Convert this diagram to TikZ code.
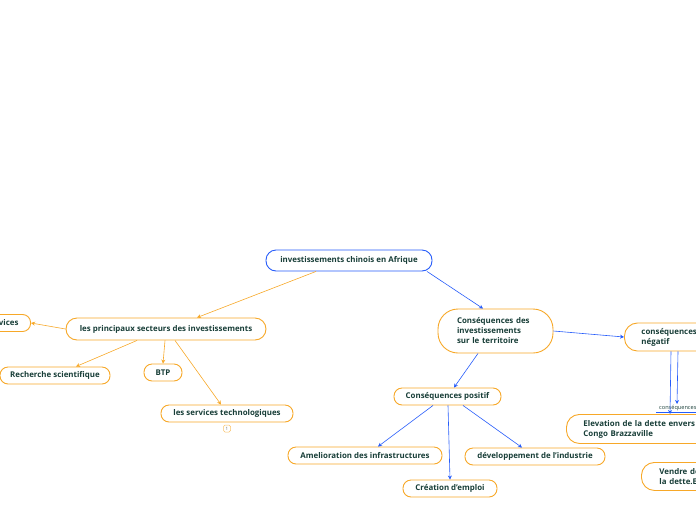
\documentclass[tikz,border=0pt]{standalone}
\usepackage{fontspec}
\setmainfont{Open Sans}
\usepackage{tikz}
\usetikzlibrary{arrows.meta}
\definecolor{mapline}{RGB}{247,168,40}
\definecolor{mapblue}{RGB}{38,92,250}
\definecolor{maptext}{RGB}{24,62,56}

\begin{document}
\begin{tikzpicture}[x=1pt, y=-1pt,
 topic/.style={draw=mapline, fill=white, line width=0.9pt,
          rounded corners=8pt, minimum height=17pt, inner xsep=8pt,
          font=\fontsize{7.9}{10}\selectfont\bfseries, text=maptext},
 roottopic/.style={topic, draw=mapblue, minimum height=21pt, rounded corners=10pt},
 bigtopic/.style={topic, align=left, inner xsep=17pt, rounded corners=13pt},
 orarrow/.style={-{Stealth[length=4pt,width=4pt]}, draw=mapline, line width=0.6pt},
 blarrow/.style={-{Stealth[length=4pt,width=4pt]}, draw=mapblue, line width=0.6pt}
]
\useasboundingbox (0,0) rectangle (696,520);
\clip (0,0) rectangle (696,520);
% central topic and the two main branches
\node[roottopic, minimum width=166pt] (root) at (349,260.5) {investissements chinois en Afrique};
\node[topic, minimum width=200pt, minimum height=22pt, rounded corners=11pt] (secteurs) at (166,329) {les principaux secteurs des investissements};
\node[topic, minimum width=115pt, minimum height=44pt, text width=77pt, align=left, inner xsep=0pt, rounded corners=20pt] (territoire) at (495.5,331)
 {Conséquences des\\investissements\\sur le territoire};
\draw[orarrow] (root.south -| 316,0) -- (secteurs.north -| 197,0);
\draw[blarrow] (root.south -| 427,0) -- (territoire.north -| 483,0);
% sectors
\node[topic, inner xsep=12pt, anchor=east] (services) at (31,323) {Services};
\node[topic, minimum width=110pt] (recherche) at (55,375.5) {Recherche scientifique};
\node[topic, minimum width=38pt] (btp) at (163,372.5) {BTP};
\node[topic, minimum width=132pt] (techno) at (227,413.5) {les services technologiques};
\node[draw=mapline!70, fill=white, line width=0.5pt, rounded corners=1.5pt, minimum size=7pt, inner sep=0pt,
      font=\fontsize{4.5}{4.5}\selectfont, text=black!55] (badge) at (227,428.5) {1};
\draw[orarrow] (secteurs.west) -- (services.east);
\draw[orarrow] (secteurs.south -| 137,0) -- (recherche.north -| 76,0);
\draw[orarrow] (secteurs.south -| 165,0) -- (btp.north);
\draw[orarrow] (secteurs.south -| 175,0) -- (techno.north -| 221,0);
% consequences
\node[bigtopic, minimum height=28pt, text width=110pt, anchor=west] (negatif) at (624,337) {conséquences\\négatif};
\node[topic, minimum width=107pt] (positif) at (447.5,396.5) {Conséquences positif};
\draw[blarrow] (territoire.east) -- (negatif.west);
\draw[blarrow] (territoire.south -| 478,0) -- (positif.north -| 454,0);
\node[topic, minimum width=154pt] (infra) at (365,455.5) {Amelioration des infrastructures};
\node[topic, minimum width=94pt] (emploi) at (450,488.5) {Création d'emploi};
\node[topic, minimum width=140pt] (industrie) at (535,456.5) {développement de l'industrie};
\draw[blarrow] (positif.south -| 433,0) -- (infra.north -| 378,0);
\draw[blarrow] (positif.south -| 448,0) -- (emploi.north);
\draw[blarrow] (positif.south -| 463,0) -- (industrie.north -| 522,0);
% negative side
\node[bigtopic, minimum height=29pt, text width=160pt, anchor=north west] (dette) at (566,414)
 {Elevation de la dette envers le\\Congo Brazzaville};
\node[bigtopic, minimum height=28pt, text width=110pt, inner xsep=18pt, anchor=north west] (vendre) at (641,462)
 {Vendre des\\la dette.E};
\node[font=\fontsize{5.6}{6}\selectfont, text=maptext, inner sep=1pt, anchor=south west] (lien) at (658,412) {conséquences};
\draw[mapblue, line width=1pt] (lien.south west -| 656,0) -- (lien.south east -| 700,0);
\draw[blarrow] (negatif.south -| 671,0) -- (dette.north -| 670,0);
\draw[blarrow] (negatif.south -| 678,0) -- (lien.north -| 677,0);
\end{tikzpicture}
\end{document}
